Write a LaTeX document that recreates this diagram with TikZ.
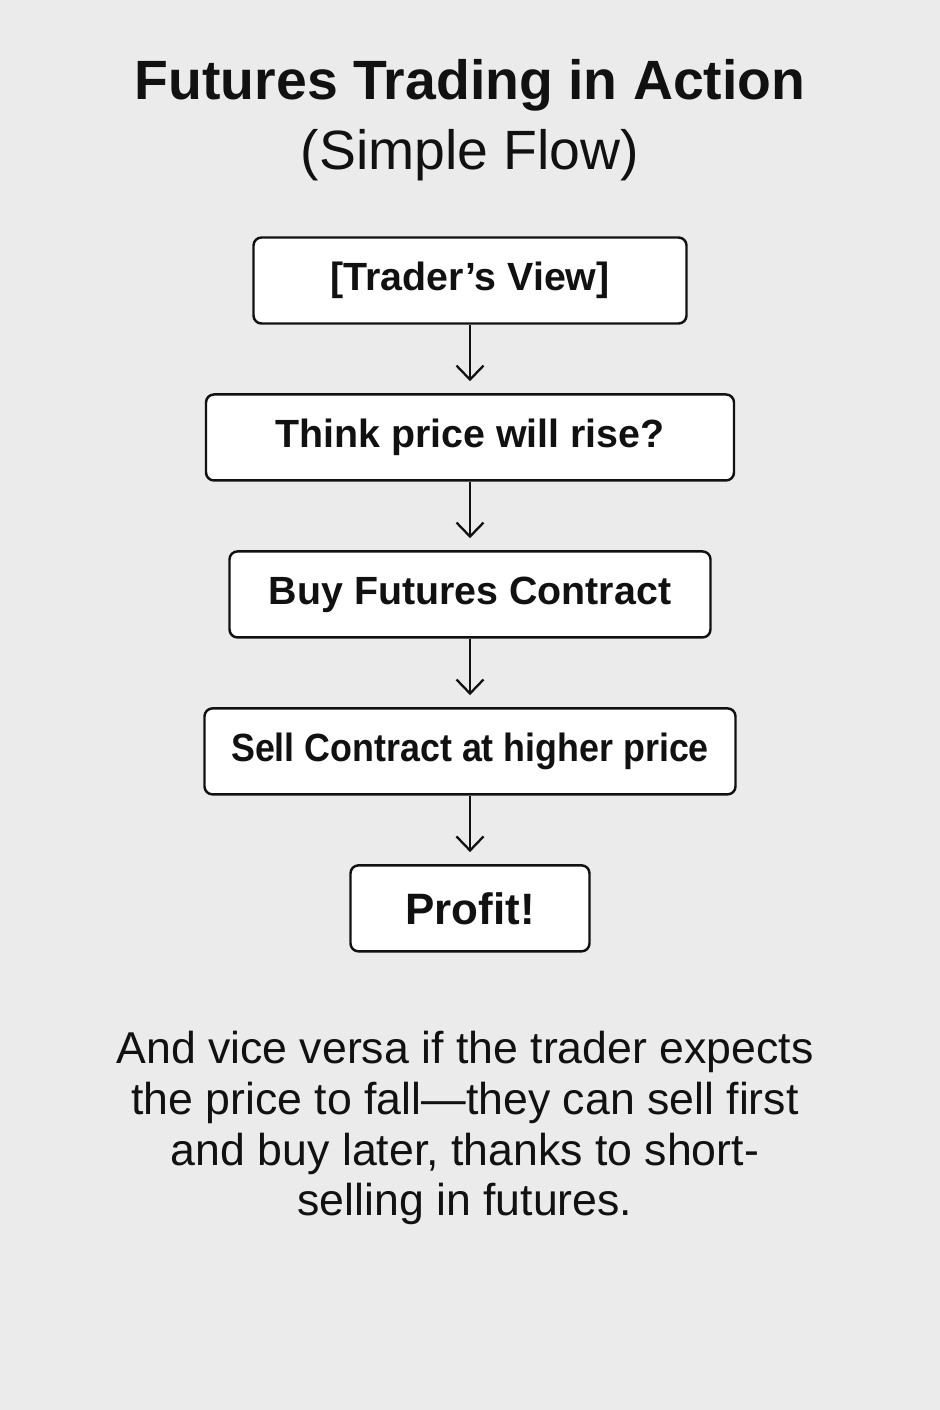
\documentclass[tikz,border=0pt]{standalone}
\usepackage{fontspec}
\setmainfont{Liberation Sans}
\usetikzlibrary{arrows.meta,positioning}
\definecolor{bgray}{HTML}{EBEBEB}
\definecolor{ink}{HTML}{111111}

\begin{document}
\begin{tikzpicture}[
  stepbox/.style={draw=ink, line width=1.4pt, rounded corners=1.6mm, fill=white, minimum height=17.2mm, inner sep=0pt, align=center, text=ink, font=\bfseries\fontsize{22.4}{26}\selectfont},
  title/.style={text=ink, font=\bfseries\fontsize{31.5}{36}\selectfont},
  subtitle/.style={text=ink, font=\fontsize{31.5}{36}\selectfont},
  note/.style={text=ink, align=center, font=\fontsize{25.4}{29}\selectfont},
  flow/.style={->, line width=1.3pt, draw=ink, shorten >=2.4mm},
  >={Straight Barb[length=2.8mm, width=5.4mm]}, node distance=13.7mm
]

% Background and page size
\fill[bgray] (0,0) rectangle (18.8,-28.2);
\useasboundingbox (0,0) rectangle (18.8,-28.2);

% Heading
\node[title] (head) at (9.4,-1.70) {Futures Trading in Action};
\node[subtitle] (sub) at (9.4,-3.10) {(Simple Flow)};

% Steps top to bottom
\node[stepbox, minimum width=86.6mm] (view) at (9.4,-5.61) {[Trader’s View]};
\node[stepbox, minimum width=105.6mm, below=of view] (rise) {Think price will rise?};
\node[stepbox, minimum width=96.2mm, below=of rise] (buy) {Buy Futures Contract};
\node[stepbox, minimum width=106.2mm, below=of buy] (sell) {\scalebox{0.91}[1]{Sell Contract at higher price}};
\node[stepbox, minimum width=47.8mm, below=of sell, font=\bfseries\fontsize{25}{29}\selectfont] (profit) {Profit!};

% Note under the flow
\node[note] (vice) at (9.3,-22.56) {And vice versa if the trader expects\\the price to fall—they can sell first\\and buy later, thanks to short-\\selling in futures.};

% Connections
\draw[flow] (view) -- (rise);
\draw[flow] (rise) -- (buy);
\draw[flow] (buy) -- (sell);
\draw[flow] (sell) -- (profit);

\end{tikzpicture}
\end{document}
